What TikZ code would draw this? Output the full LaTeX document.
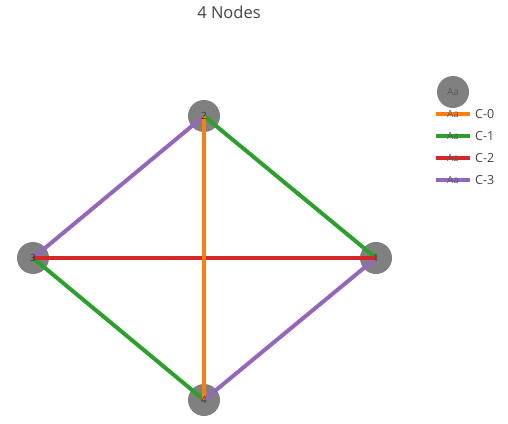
\documentclass[tikz,border=0pt]{standalone}
\usepackage{fontspec}
\setmainfont{Open Sans}
\definecolor{cOrange}{HTML}{FF7F0E}
\definecolor{cGreen}{HTML}{2CA02C}
\definecolor{cRed}{HTML}{D62728}
\definecolor{cPurple}{HTML}{9467BD}
\definecolor{nodeGrey}{HTML}{808080}
\definecolor{txt}{HTML}{444444}
\tikzset{
  vert/.style={circle, fill=nodeGrey, minimum size=32pt, inner sep=0pt},
  vlabel/.style={font=\fontsize{10}{10}\selectfont, text=txt!80!black, inner sep=0pt},
  edge/.style={line width=4pt},
  legtxt/.style={font=\fontsize{12.5}{12.5}\selectfont, text=txt, anchor=west, inner sep=0pt},
  aa/.style={font=\fontsize{10}{10}\selectfont, text=txt!60!nodeGrey, inner sep=0pt},
}
\begin{document}
\begin{tikzpicture}[x=1pt,y=-1pt]
\useasboundingbox (0,0) rectangle (508,423);
\node[font=\fontsize{16.5}{16.5}\selectfont, text=txt] (title) at (229,12) {4 Nodes};
% vertices
\node[vert] (n1) at (376,258) {};
\node[vert] (n2) at (204,116) {};
\node[vert] (n3) at (33,258) {};
\node[vert] (n4) at (204,400) {};
% edges
\draw[edge, cPurple] (n2.center) -- (n3.center);
\draw[edge, cPurple] (n4.center) -- (n1.center);
\draw[edge, cGreen] (n2.center) -- (n1.center);
\draw[edge, cGreen] (n3.center) -- (n4.center);
\draw[edge, cRed] (n3.center) -- (n1.center);
\draw[edge, cOrange] (n2.center) -- (n4.center);
% labels
\node[vlabel] at (n1) {1};
\node[vlabel] at (n2) {2};
\node[vlabel] at (n3) {3};
\node[vlabel] at (n4) {4};
% legend
\node[vert] (lg) at (453,92) {};
\node[aa] at (lg) {Aa};
\foreach \c/\lab/\y [count=\i] in {cOrange/C-0/114, cGreen/C-1/136, cRed/C-2/158, cPurple/C-3/180}{
  \coordinate (ls\i) at (436,\y);
  \coordinate (le\i) at (470,\y);
  \draw[line width=4pt, \c] (ls\i) -- (le\i);
  \node[aa] at (453,\y) {Aa};
  \node[legtxt] (lt\i) at (475,\y) {\lab};
}
\end{tikzpicture}
\end{document}
